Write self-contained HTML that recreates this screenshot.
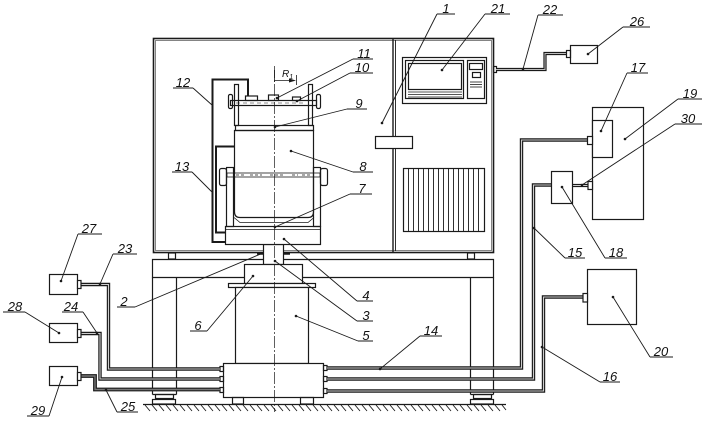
<!DOCTYPE html>
<html><head><meta charset="utf-8"><style>
html,body{margin:0;padding:0;background:#fff;}
svg{display:block;}
text{font-family:"Liberation Sans",sans-serif;font-style:italic;font-size:13px;fill:#111;text-anchor:middle;}
</style></head><body>
<svg width="702" height="421" viewBox="0 0 702 421" xmlns="http://www.w3.org/2000/svg">
<g fill="none" stroke="#1a1a1a" stroke-width="1.2">
<!-- cabinet -->
<rect x="153.5" y="38.5" width="340" height="214" stroke-width="1.6"/>
<rect x="155.5" y="40.5" width="336" height="210" stroke-width="0.8" stroke="#666"/>
<line x1="393" y1="39" x2="393" y2="252" stroke-width="1.4"/>
<line x1="395.5" y1="40" x2="395.5" y2="251" stroke-width="0.9"/>
<rect x="168.5" y="253" width="7" height="6"/>
<rect x="467.5" y="253" width="7" height="6"/>
<!-- screen panel -->
<rect x="402.5" y="57.5" width="84" height="46"/>
<rect x="405.5" y="60.5" width="58" height="38"/>
<rect x="408.5" y="63.5" width="53" height="26"/>
<line x1="408" y1="92" x2="462" y2="92" stroke-width="0.8"/>
<line x1="408" y1="94.5" x2="462" y2="94.5" stroke-width="0.8"/>
<line x1="408" y1="97" x2="462" y2="97" stroke-width="0.8"/>
<rect x="467.5" y="60.5" width="17" height="38"/>
<rect x="469.5" y="63.5" width="13" height="6"/>
<rect x="472.5" y="72.5" width="8" height="5"/>
<line x1="470" y1="82" x2="482" y2="82" stroke-width="0.8"/>
<line x1="470" y1="84.5" x2="482" y2="84.5" stroke-width="0.8"/>
<line x1="470" y1="87" x2="482" y2="87" stroke-width="0.8"/>
<!-- handle -->
<rect x="375.5" y="136.5" width="37" height="12" fill="#fff"/>
<!-- vent -->
<rect x="403.5" y="168.5" width="81" height="63"/>
<path d="M408.5 168v63M413.5 168v63M418.5 168v63M423.5 168v63M428.5 168v63M433.5 168v63M438.5 168v63M443.5 168v63M448.5 168v63M453.5 168v63M458.5 168v63M463.5 168v63M468.5 168v63M473.5 168v63M478.5 168v63" stroke-width="0.9"/>
<!-- cabinet right connector + hose 22 -->
<rect x="493.5" y="66.5" width="3" height="6"/>
<path d="M496 69.5H545V53.5H566" stroke-width="3.2"/>
<path d="M496 69.5H545V53.5H566" stroke="#bbb" stroke-width="1"/>
<rect x="566.5" y="50.5" width="4" height="7"/>
<rect x="570.5" y="45.5" width="27" height="18"/>

<!-- stand -->
<path d="M152.5 259.5H493.5V277.5H152.5Z"/>
<path d="M152.5 277.5V394.5M176.5 277.5V394.5"/>
<path d="M152.5 394.5H176.5"/>
<rect x="155.5" y="394.5" width="18" height="4"/>
<rect x="152.5" y="399.5" width="23" height="4.5"/>
<path d="M470.5 277.5V394.5M493.5 277.5V394.5M470.5 394.5H493.5"/>
<rect x="473.5" y="394.5" width="18" height="4"/>
<rect x="470.5" y="399.5" width="23" height="4.5"/>
<!-- ground -->
<line x1="143" y1="404.5" x2="506" y2="404.5"/>
<path d="M145 405l5 6M152 405l5 6M159 405l5 6M166 405l5 6M173 405l5 6M180 405l5 6M187 405l5 6M194 405l5 6M201 405l5 6M208 405l5 6M215 405l5 6M222 405l5 6M229 405l5 6M236 405l5 6M243 405l5 6M250 405l5 6M257 405l5 6M264 405l5 6M271 405l5 6M278 405l5 6M285 405l5 6M292 405l5 6M299 405l5 6M306 405l5 6M313 405l5 6M320 405l5 6M327 405l5 6M334 405l5 6M341 405l5 6M348 405l5 6M355 405l5 6M362 405l5 6M369 405l5 6M376 405l5 6M383 405l5 6M390 405l5 6M397 405l5 6M404 405l5 6M411 405l5 6M418 405l5 6M425 405l5 6M432 405l5 6M439 405l5 6M446 405l5 6M453 405l5 6M460 405l5 6M467 405l5 6M474 405l5 6M481 405l5 6M488 405l5 6M495 405l5 6M502 405l4 5" stroke-width="0.9"/>

<!-- vibration table -->
<rect x="263.5" y="244.5" width="20" height="20" fill="#fff"/>
<path d="M257 253.5h6M284 253.5h6" stroke-width="2.5"/>
<rect x="244.5" y="264.5" width="58" height="19" fill="#fff"/>
<rect x="228.5" y="283.5" width="87" height="4" fill="#fff"/>
<rect x="235.5" y="287.5" width="73" height="76" fill="#fff"/>
<rect x="223.5" y="363.5" width="100" height="34" fill="#fff"/>
<rect x="232.5" y="397.5" width="11" height="6.5"/>
<rect x="300.5" y="397.5" width="13" height="6.5"/>
<rect x="220" y="366.5" width="3.5" height="5"/>
<rect x="220" y="376.5" width="3.5" height="5"/>
<rect x="220" y="387.5" width="3.5" height="5"/>
<rect x="323.5" y="365.5" width="3.5" height="5"/>
<rect x="323.5" y="376.5" width="3.5" height="5"/>
<rect x="323.5" y="388.5" width="3.5" height="5"/>

<!-- table 7 and yokes -->
<rect x="225.5" y="226.5" width="95" height="18" fill="#fff"/>
<line x1="226" y1="229.5" x2="320" y2="229.5" stroke-width="0.7"/>
<rect x="226.5" y="167.5" width="7" height="59"/>
<rect x="313.5" y="167.5" width="7" height="59"/>
<rect x="219.5" y="168.5" width="7" height="17" rx="2"/>
<rect x="320.5" y="168.5" width="7" height="17" rx="2"/>
<!-- body 8 -->
<path d="M234.5 130.5H313.5V212Q313.5 217.5 308 217.5H240Q234.5 217.5 234.5 212Z"/>
<path d="M234 217.5L240 222.5H308L314 217.5" stroke-width="0.8"/>
<rect x="227" y="173" width="93" height="4" stroke-width="0.8"/>
<path d="M236 175h8M250 175h12M270 175h14M292 175h6M302 175h10" stroke-width="0.7" stroke-dasharray="3 2"/>
<!-- top assembly -->
<rect x="235.5" y="125.5" width="78" height="5"/>
<rect x="234.5" y="84.5" width="4" height="41"/>
<rect x="308.5" y="84.5" width="4" height="41"/>
<rect x="230.5" y="100.5" width="86" height="5"/>
<path d="M236 103h70" stroke-width="0.6" stroke-dasharray="4 3"/>
<rect x="228.5" y="94.5" width="4" height="14" rx="1.5"/>
<rect x="316.5" y="94.5" width="4" height="14" rx="1.5"/>
<rect x="245.5" y="96" width="12" height="4.5"/>
<rect x="268.5" y="95" width="10" height="5.5"/>
<rect x="292.5" y="97" width="8" height="3.5"/>
<!-- cables 12 & 13 -->
<path d="M248 96.5V79.5H212.5V242H225.5" stroke-width="2"/>
<path d="M234.5 146.5H216V232.5H225.5" stroke-width="2"/>
<!-- centerline -->
<line x1="274.5" y1="66" x2="274.5" y2="412" stroke-width="0.7" stroke-dasharray="12 2 2 2"/>
<!-- R1 dim -->
<line x1="274.5" y1="70" x2="274.5" y2="82" stroke-width="0.8"/>
<line x1="296.5" y1="75" x2="296.5" y2="85" stroke-width="0.8"/>
<line x1="274.5" y1="80.5" x2="292" y2="80.5" stroke-width="0.8"/>
</g>
<path d="M296 80.5L289 78.5V82.5Z" fill="#1a1a1a"/>

<!-- hoses left -->
<g fill="none">
<path d="M80.5 284.5H108.5V369H220" stroke="#1a1a1a" stroke-width="3.4"/>
<path d="M80.5 284.5H108.5V369H220" stroke="#ccc" stroke-width="1.1"/>
<path d="M80.5 333.5H100V379H220" stroke="#1a1a1a" stroke-width="3.4"/>
<path d="M80.5 333.5H100V379H220" stroke="#ccc" stroke-width="1.1"/>
<path d="M80.5 376H95V389.5H220" stroke="#1a1a1a" stroke-width="3.8"/>
<path d="M80.5 376H95V389.5H220" stroke="#777" stroke-width="1.4"/>
<!-- hoses right -->
<path d="M327 368H521.5V140H587" stroke="#1a1a1a" stroke-width="3.4"/>
<path d="M327 368H521.5V140H587" stroke="#ccc" stroke-width="1.1"/>
<path d="M327 379H533.5V185H551" stroke="#1a1a1a" stroke-width="3.4"/>
<path d="M327 379H533.5V185H551" stroke="#ccc" stroke-width="1.1"/>
<path d="M327 391H543.5V297H583" stroke="#1a1a1a" stroke-width="3.4"/>
<path d="M327 391H543.5V297H583" stroke="#ccc" stroke-width="1.1"/>
<path d="M572 185.5H588" stroke="#1a1a1a" stroke-width="3.2"/>
<path d="M572 185.5H588" stroke="#ccc" stroke-width="1"/>
</g>
<g fill="#fff" stroke="#1a1a1a" stroke-width="1.2">
<rect x="49.5" y="274.5" width="28" height="20"/>
<rect x="77.5" y="280.5" width="3.5" height="8"/>
<rect x="49.5" y="323.5" width="28" height="19"/>
<rect x="77.5" y="329.5" width="3.5" height="8"/>
<rect x="49.5" y="366.5" width="28" height="19"/>
<rect x="77.5" y="372.5" width="3.5" height="8"/>
<rect x="592.5" y="107.5" width="51" height="112"/>
<rect x="592.5" y="120.5" width="20" height="37"/>
<rect x="587.5" y="136.5" width="5" height="8"/>
<rect x="551.5" y="171.5" width="21" height="32"/>
<rect x="588" y="181.5" width="4.5" height="8"/>
<rect x="587.5" y="269.5" width="49" height="55"/>
<rect x="583" y="293.5" width="4.5" height="8.5"/>
</g>

<!-- leaders -->
<g stroke="#1a1a1a" stroke-width="0.9" fill="none">
<path d="M437 14H455M437 14L382 123"/>
<path d="M485 14H510M485 14L442 70"/>
<path d="M538 15H563M538 15L523 69"/>
<path d="M623 27H650M623 27L588 54"/>
<path d="M627 73H648M627 73L601 131"/>
<path d="M678 99H702M678 99L625 139"/>
<path d="M675 124H702M675 124L582 185"/>
<path d="M605 258H627M605 258L562 187"/>
<path d="M565 258H585M565 258L534 228"/>
<path d="M420 336H442M420 336L380 369"/>
<path d="M600 382H620M600 382L542 347"/>
<path d="M650 357H673M650 357L613 297"/>
<path d="M353 59H373M353 59L277 98"/>
<path d="M350 73H373M350 73L297 101"/>
<path d="M347 109H367M347 109L275 127"/>
<path d="M353 172H373M353 172L291 151"/>
<path d="M350 194H372M350 194L275 227"/>
<path d="M173 88H193M193 88L212 105"/>
<path d="M172 172H192M192 172L213 193"/>
<path d="M117 307H135M135 307L263 253"/>
<path d="M357 301H373M357 301L284 239"/>
<path d="M357 321H373M357 321L275 261"/>
<path d="M358 341H373M358 341L296 316"/>
<path d="M190 331H207M207 331L253 276"/>
<path d="M78 234H102M78 234L61 281"/>
<path d="M113 254H137M113 254L100 284"/>
<path d="M3 312H25M25 312L59 333"/>
<path d="M62 312H83M83 312L97 333"/>
<path d="M27 416H49M49 416L62 377"/>
<path d="M117 412H138M117 412L106 390"/>
</g>
<g fill="#1a1a1a">
<circle cx="382" cy="123" r="1.3"/><circle cx="442" cy="70" r="1.3"/><circle cx="523" cy="69" r="1.3"/>
<circle cx="588" cy="54" r="1.3"/><circle cx="601" cy="131" r="1.3"/><circle cx="625" cy="139" r="1.3"/>
<circle cx="582" cy="185" r="1.3"/><circle cx="562" cy="187" r="1.3"/><circle cx="534" cy="228" r="1.3"/>
<circle cx="380" cy="369" r="1.3"/><circle cx="542" cy="347" r="1.3"/><circle cx="613" cy="297" r="1.3"/>
<circle cx="277" cy="98" r="1.3"/><circle cx="297" cy="101" r="1.3"/><circle cx="275" cy="127" r="1.3"/>
<circle cx="291" cy="151" r="1.3"/><circle cx="275" cy="227" r="1.3"/><circle cx="284" cy="239" r="1.3"/>
<circle cx="275" cy="261" r="1.3"/><circle cx="296" cy="316" r="1.3"/><circle cx="253" cy="276" r="1.3"/>
<circle cx="61" cy="281" r="1.3"/><circle cx="100" cy="284" r="1.3"/><circle cx="59" cy="333" r="1.3"/>
<circle cx="97" cy="333" r="1.3"/><circle cx="62" cy="377" r="1.3"/><circle cx="106" cy="390" r="1.3"/>
</g>

<!-- labels -->
<text x="446" y="13">1</text>
<text x="498" y="13">21</text>
<text x="550" y="14">22</text>
<text x="637" y="26">26</text>
<text x="638" y="72">17</text>
<text x="690" y="98">19</text>
<text x="688" y="123">30</text>
<text x="616" y="257">18</text>
<text x="575" y="257">15</text>
<text x="431" y="335">14</text>
<text x="610" y="381">16</text>
<text x="661" y="356">20</text>
<text x="364" y="58">11</text>
<text x="362" y="72">10</text>
<text x="359" y="108">9</text>
<text x="363" y="171">8</text>
<text x="362" y="193">7</text>
<text x="183" y="87">12</text>
<text x="182" y="171">13</text>
<text x="124" y="306">2</text>
<text x="366" y="300">4</text>
<text x="366" y="320">3</text>
<text x="366" y="340">5</text>
<text x="198" y="330">6</text>
<text x="89" y="233">27</text>
<text x="125" y="253">23</text>
<text x="15" y="311">28</text>
<text x="71" y="311">24</text>
<text x="38" y="415">29</text>
<text x="128" y="411">25</text>
<text x="282" y="77" style="font-size:10px;text-anchor:start">R<tspan style="font-size:7px" dy="2">1</tspan></text>
</svg>
</body></html>
